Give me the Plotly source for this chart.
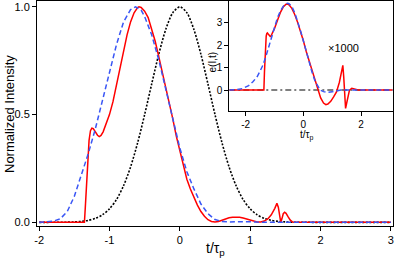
import plotly.graph_objects as go

# ---------------- data ----------------
# Main panel: normalized intensity vs t/tau_p
t_ref = [-2.0, -1.8, -1.6, -1.5, -1.4, -1.3, -1.2, -1.1, -1.0, -0.9, -0.8, -0.7, -0.6, -0.5,
         -0.4, -0.3, -0.2, -0.1, 0.0, 0.1, 0.2, 0.3, 0.4, 0.5, 0.6, 0.7, 0.8, 0.9, 1.0,
         1.1, 1.2, 1.3, 1.4, 1.5, 1.6, 1.8, 2.0, 3.0]
I_ref = [0.0, 0.0001, 0.0008, 0.002, 0.0044, 0.0092, 0.0185, 0.0349, 0.0625, 0.1058, 0.1696,
         0.257, 0.3686, 0.5, 0.6417, 0.7792, 0.895, 0.9727, 1.0, 0.9727, 0.895, 0.7792, 0.6417,
         0.5, 0.3686, 0.257, 0.1696, 0.1058, 0.0625, 0.0349, 0.0185, 0.0092, 0.0044, 0.002,
         0.0008, 0.0001, 0.0, 0.0]

t_blue = [-2.0, -1.9, -1.8, -1.7, -1.6, -1.5, -1.4, -1.3, -1.2, -1.1, -1.0, -0.9, -0.8, -0.7,
          -0.63, -0.55, -0.5, -0.4, -0.3, -0.2, -0.1, 0.0, 0.1, 0.2, 0.3, 0.4, 0.5, 0.6, 0.7,
          0.8, 0.9, 1.0, 1.1, 1.2, 2.0, 3.0]
I_blue = [0.0, 0.001, 0.005, 0.016, 0.05, 0.12, 0.215, 0.32, 0.435, 0.565, 0.70, 0.825, 0.93,
          0.987, 1.0, 0.985, 0.955, 0.87, 0.755, 0.62, 0.48, 0.345, 0.235, 0.155, 0.085, 0.04,
          0.013, 0.004, 0.002, 0.003, 0.004, 0.003, 0.001, 0.0, 0.0, 0.0]

t_red = [-2.0, -1.356, -1.345, -1.33, -1.31, -1.29, -1.27, -1.25, -1.23, -1.2, -1.17, -1.145,
         -1.12, -1.09, -1.05, -1.0, -0.95, -0.9, -0.85, -0.8, -0.75, -0.7, -0.65, -0.6, -0.58,
         -0.55, -0.5, -0.45, -0.4, -0.35, -0.3, -0.25, -0.2, -0.15, -0.1, -0.05, 0.0, 0.05,
         0.1, 0.15, 0.2, 0.25, 0.3, 0.35, 0.4, 0.45, 0.5, 0.55, 0.6, 0.65, 0.7, 0.75, 0.8,
         0.85, 0.9, 0.95, 1.0, 1.05, 1.1, 1.15, 1.2, 1.25, 1.3, 1.35, 1.38, 1.4, 1.42, 1.435,
         1.45, 1.47, 1.49, 1.51, 1.54, 1.57, 1.6, 1.65, 3.0]
I_red = [0.0, 0.0, 0.06, 0.16, 0.29, 0.38, 0.425, 0.437, 0.435, 0.42, 0.404, 0.398,
         0.403, 0.42, 0.455, 0.5, 0.56, 0.64, 0.72, 0.80, 0.87, 0.93, 0.972, 0.996, 1.0,
         0.997, 0.98, 0.95, 0.90, 0.84, 0.77, 0.70, 0.62, 0.555, 0.48, 0.40, 0.33, 0.26,
         0.20, 0.155, 0.115, 0.08, 0.05, 0.028, 0.012, 0.004, 0.002, 0.004, 0.01, 0.016,
         0.021, 0.024, 0.025, 0.024, 0.02, 0.015, 0.009, 0.005, 0.002, 0.002, 0.006, 0.016,
         0.035, 0.065, 0.088, 0.07, 0.02, 0.0, 0.015, 0.04, 0.047, 0.042, 0.025, 0.01, 0.002,
         0.0, 0.0]

# Inset: field e(I,t) (x1000)
ti_zero = [-2.57, 3.1]
e_zero = [0.0, 0.0]

ti_blue = [-2.57, -2.5, -2.3, -2.1, -1.9, -1.75, -1.6, -1.5, -1.4, -1.3, -1.2, -1.1, -1.0, -0.9,
           -0.8, -0.7, -0.6, -0.55, -0.5, -0.4, -0.3, -0.2, -0.1, 0.0, 0.1, 0.2, 0.3, 0.4,
           0.5, 0.58, 0.7, 0.85, 1.0, 1.15, 1.3, 3.1]
e_blue = [0.0, 0.0, 0.02, 0.07, 0.2, 0.37, 0.6, 0.85, 1.12, 1.5, 1.95, 2.38, 2.85, 3.22,
          3.52, 3.73, 3.85, 3.87, 3.85, 3.72, 3.45, 3.08, 2.65, 2.2, 1.72, 1.25, 0.8, 0.42,
          0.15, 0.0, -0.07, -0.1, -0.08, -0.04, 0.0, 0.0]

ti_red = [-2.57, -1.37, -1.35, -1.33, -1.31, -1.29, -1.27, -1.25, -1.22, -1.18, -1.15, -1.12,
          -1.08, -1.0, -0.9, -0.8, -0.7, -0.6, -0.55, -0.5, -0.4, -0.3, -0.2, -0.1, 0.0, 0.1,
          0.2, 0.3, 0.4, 0.45, 0.5, 0.6, 0.7, 0.78, 0.85, 0.95, 1.05, 1.15, 1.25, 1.32, 1.37,
          1.40, 1.43, 1.465, 1.5, 1.55, 1.6, 1.68, 1.75, 1.85, 1.9, 3.1]
e_red = [0.0, 0.0, 0.8, 1.6, 2.1, 2.4, 2.52, 2.55, 2.5, 2.42, 2.39, 2.42,
         2.52, 2.75, 3.1, 3.45, 3.7, 3.83, 3.84, 3.8, 3.64, 3.37, 3.02, 2.65, 2.2, 1.72,
         1.3, 0.85, 0.4, 0.2, 0.0, -0.35, -0.58, -0.65, -0.62, -0.5, -0.3, -0.08, 0.35, 0.8,
         1.1, 0.6, -0.2, -0.82, -0.6, -0.2, 0.0, 0.08, 0.06, 0.01, 0.0, 0.0]

main_xticks = [-2, -1, 0, 1, 2, 3]
main_xticktext = ["-2", "-1", "0", "1", "2", "3"]
main_yticks = [0.0, 0.5, 1.0]
main_yticktext = ["0.0", "0.5", "1.0"]
inset_xticks = [-2, 0, 2]
inset_xticktext = ["-2", "0", "2"]
inset_yticks = [0, 1, 2, 3]
inset_yticktext = ["0", "1", "2", "3"]

# ---------------- figure ----------------
W, H = 395, 259
ML, MR, MT, MB = 37, 2, 1, 33
PW, PH = W - ML - MR, H - MT - MB


def px(x):
    return (x - ML) / PW


def py(y):
    return (H - MB - y) / PH


FONT = "Liberation Sans, Arial, Helvetica, sans-serif"
RED = "#ff0000"
BLUE = "#3a56f5"

fig = go.Figure()
fig.add_trace(go.Scatter(x=t_ref, y=I_ref, mode="lines", xaxis="x", yaxis="y",
                         line=dict(color="black", width=1.6, dash="2px,1.6px", shape="spline",
                                   smoothing=0.8)))
fig.add_trace(go.Scatter(x=t_red, y=I_red, mode="lines", xaxis="x", yaxis="y",
                         line=dict(color=RED, width=1.5)))
fig.add_trace(go.Scatter(x=t_blue, y=I_blue, mode="lines", xaxis="x", yaxis="y",
                         line=dict(color=BLUE, width=1.5, dash="5px,3px")))

fig.add_trace(go.Scatter(x=ti_zero, y=e_zero, mode="lines", xaxis="x2", yaxis="y2",
                         line=dict(color="black", width=1.1, dash="6px,3px,2px,3px")))
fig.add_trace(go.Scatter(x=ti_red, y=e_red, mode="lines", xaxis="x2", yaxis="y2",
                         line=dict(color=RED, width=1.5)))
fig.add_trace(go.Scatter(x=ti_blue, y=e_blue, mode="lines", xaxis="x2", yaxis="y2",
                         line=dict(color=BLUE, width=1.5, dash="5px,3px")))

axis_common = dict(showgrid=False, zeroline=False, showline=True, mirror=True,
                   linecolor="black", linewidth=1, ticks="outside", ticklen=4,
                   tickcolor="black", tickwidth=1, tickmode="array")

fig.update_layout(
    width=W, height=H, margin=dict(l=ML, r=MR, t=MT, b=MB),
    paper_bgcolor="white", plot_bgcolor="white", showlegend=False,
    font=dict(family=FONT, color="black"),
    xaxis=dict(range=[-2.03, 3.03], tickvals=main_xticks, ticktext=main_xticktext,
               tickfont=dict(size=11), domain=[0, 1], anchor="y", **axis_common),
    yaxis=dict(range=[-0.017, 1.027], tickvals=main_yticks, ticktext=main_yticktext,
               tickfont=dict(size=11), domain=[0, 1], anchor="x", **axis_common),
    xaxis2=dict(range=[-2.57, 3.1], tickvals=inset_xticks, ticktext=inset_xticktext,
                tickfont=dict(size=10), domain=[px(229.3), px(392.7)], anchor="y2",
                **axis_common),
    yaxis2=dict(range=[-0.92, 3.97], tickvals=inset_yticks, ticktext=inset_yticktext,
                tickfont=dict(size=10), domain=[py(110.7), 1.0], anchor="x2",
                **axis_common),
)

ann = [
    ("Normalized Intensity", 9, 114, 13, -90),
    ("t/τ<sub>p</sub>", 215, 249, 14, 0),
    ("e(I,t)", 212.5, 62, 10, -90),
    ("t/τ<sub>p</sub>", 307, 135, 10, 0),
    ("×1000", 343, 48, 11, 0),
]
for text, x, y, size, ang in ann:
    fig.add_annotation(text=text, x=px(x), y=py(y), xref="paper", yref="paper",
                       showarrow=False, xanchor="center", yanchor="middle",
                       textangle=ang, font=dict(size=size, family=FONT, color="black"))

fig.write_html("out.html",
               config={"displayModeBar": False, "staticPlot": True},
               post_script="document.body.style.margin='0px';"
                           "document.body.style.overflow='hidden';")
